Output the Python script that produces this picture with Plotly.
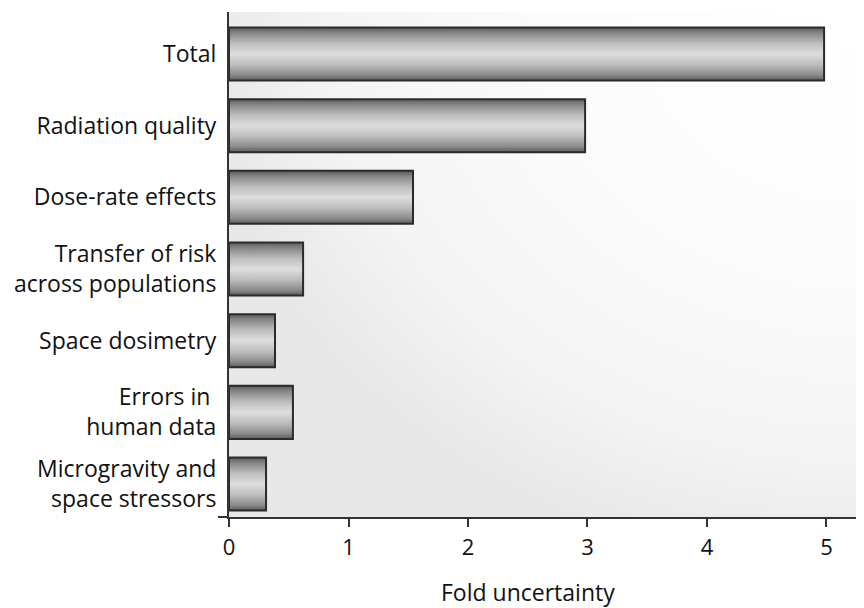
import plotly.graph_objects as go

categories = ["Total", "Radiation quality", "Dose-rate effects",
              "Transfer of risk<br>across populations", "Space dosimetry",
              "Errors in <br>human data", "Microgravity and<br>space stressors"]
values = [4.98, 2.98, 1.54, 0.62, 0.385, 0.535, 0.31]
x_ticks = [0, 1, 2, 3, 4, 5]
x_title = "Fold uncertainty"

FONT = "'Open Sans', Lato, sans-serif"
XMAX = 5.314
Y_TOP = -0.586
Y_BOT = 6.46
BAR_H = 0.74

fig = go.Figure()

# background radial shading, centred on the top-right corner of the plot area
W = XMAX * 1.05
H = (Y_BOT - Y_TOP) * 1.1
fig.add_trace(go.Scatter(
    x=[XMAX - W, XMAX + W, XMAX + W, XMAX - W, XMAX - W],
    y=[Y_TOP - H, Y_TOP - H, Y_TOP + H, Y_TOP + H, Y_TOP - H],
    mode="lines", line=dict(width=0), fill="toself",
    fillgradient=dict(type="radial",
                      colorscale=[[0, "#ffffff"], [0.45, "#fcfcfc"], [0.8, "#f4f4f4"], [1, "#e8e8e8"]]),
    hoverinfo="skip", showlegend=False))

for i, v in enumerate(values):
    y0, y1 = i - BAR_H / 2, i + BAR_H / 2
    fig.add_trace(go.Scatter(
        x=[0, v, v, 0, 0], y=[y0, y0, y1, y1, y0],
        mode="lines", line=dict(color="#2b2b2b", width=2), fill="toself",
        fillgradient=dict(type="vertical",
                          colorscale=[[0, "#5a5a5a"], [0.1, "#8a8a8a"], [0.3, "#bdbdbd"],
                                      [0.5, "#dedede"], [0.7, "#bdbdbd"], [0.9, "#858585"],
                                      [1, "#5a5a5a"]]),
        hoverinfo="skip", showlegend=False))

fig.add_annotation(x=2.5, xref="x", y=-(592 - 517) / 505, yref="paper", text=x_title,
                   showarrow=False, font=dict(family=FONT, size=23, color="#111111"),
                   xanchor="center", yanchor="middle")

# small extension of the x axis line left of the y axis
fig.add_shape(type="line", xref="paper", yref="paper", x0=-11 / 635, x1=0, y0=0, y1=0,
              line=dict(color="#333333", width=2))

# page body has an 8px margin, so offset the figure to land on the reference pixels
fig.update_layout(
    width=856, height=600,
    margin=dict(l=221, r=0, t=4, b=91),
    paper_bgcolor="white", plot_bgcolor="white",
    font=dict(family=FONT, size=23, color="#111111"),
    xaxis=dict(range=[0, XMAX], tickvals=x_ticks, showgrid=False, zeroline=False,
               showline=True, linecolor="#333333", linewidth=2,
               ticks="outside", ticklen=8, tickwidth=2, tickcolor="#333333",
               tickfont=dict(size=22), ticklabelstandoff=2),
    yaxis=dict(range=[Y_BOT, Y_TOP], tickvals=list(range(len(categories))), ticktext=categories,
               showgrid=False, zeroline=False, showline=True, linecolor="#333333", linewidth=2,
               ticks="", tickfont=dict(size=23), ticklabelstandoff=6),
)

fig.write_html("out.html")
